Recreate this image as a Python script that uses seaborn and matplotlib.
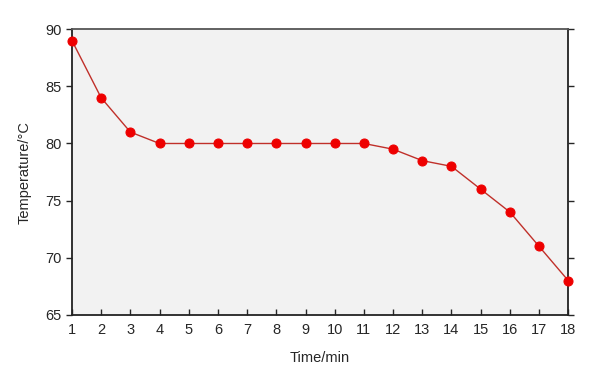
import pandas as pd
import seaborn as sns
import matplotlib.pyplot as plt

# Data
time_min = list(range(1, 19))
temperature = [89, 84, 81, 80, 80, 80, 80, 80, 80, 80, 80, 79.5, 78.5, 78, 76, 74, 71, 68]
x_ticks = list(range(1, 19))
y_ticks = [65, 70, 75, 80, 85, 90]

df = pd.DataFrame({'Time/min': time_min, 'Temperature/°C': temperature})

sns.set_style('ticks')
plt.rcParams['font.family'] = ['Liberation Sans', 'DejaVu Sans']

fig = plt.figure(figsize=(6.15, 3.79), dpi=100)
ax = fig.add_axes([0.117, 0.169, 0.807, 0.754])
ax.set_facecolor('#f2f2f2')

sns.lineplot(data=df, x='Time/min', y='Temperature/°C', ax=ax, color='#c0302a',
             linewidth=1.0, marker='o', markersize=6.5, markerfacecolor='#ee0000',
             markeredgecolor='#ee0000', zorder=3, clip_on=False)

ax.set_xlim(1, 18)
ax.set_ylim(65, 90)
ax.set_xticks(x_ticks)
ax.set_yticks(y_ticks)

for side in ['left', 'right', 'top', 'bottom']:
    ax.spines[side].set_visible(True)
    ax.spines[side].set_color('#222222')
    ax.spines[side].set_linewidth(1.3)
ax.spines['top'].set_color('#555555')

ax.tick_params(axis='x', direction='in', length=4, width=1, labelsize=10.5, pad=6)
ax.tick_params(axis='y', direction='out', length=4, width=1, labelsize=10.5,
               right=True, labelright=False)

ax.set_xlabel('Time/min', fontsize=10.5, labelpad=10)
ax.set_ylabel('Temperature/°C', fontsize=10.5, labelpad=10)

fig.savefig('out.png', dpi=100)
